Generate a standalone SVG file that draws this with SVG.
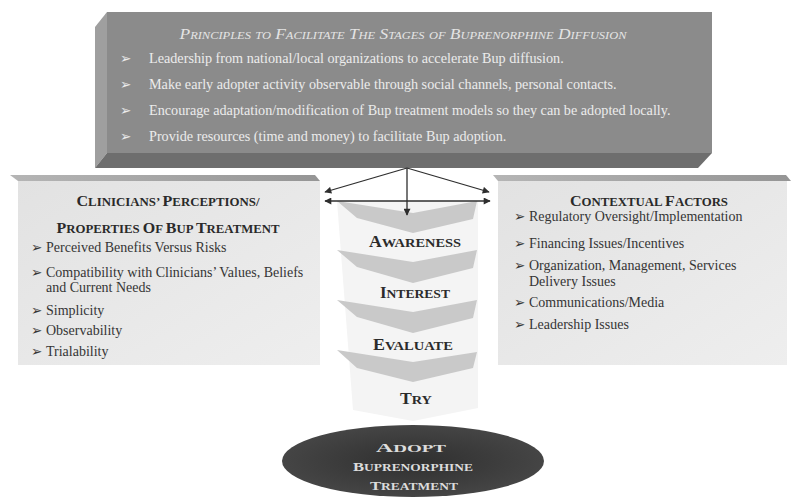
<svg xmlns="http://www.w3.org/2000/svg" width="791" height="498" viewBox="0 0 791 498">
<style>
.serif{font-family:"Liberation Serif","Times New Roman",serif}
.tt{fill:#ececec;font-size:14.2px}
.ttl{fill:#e4e4e4;font-size:14px;font-style:italic}
.st{fill:#353535;font-size:14px}
.hd{fill:#2a2a2a;font-weight:bold;text-anchor:middle}
.stage{fill:#2b2b2b;font-weight:bold;text-anchor:middle}
.ad{fill:#dcdcdc;font-weight:bold;text-anchor:middle}
.bul{font-family:"DejaVu Sans",sans-serif;font-size:13.5px}
.big{font-size:15px}
.sm{font-size:12px}
.band{fill:#c9c9c9}
.conn{stroke:#2e2e2e;stroke-width:1.3;fill:none}
</style>
<defs>
<marker id="ah" viewBox="0 0 10 10" refX="9" refY="5" markerWidth="9" markerHeight="7" markerUnits="userSpaceOnUse" orient="auto-start-reverse">
<path d="M0,0 L10,5 L0,10 z" fill="#2e2e2e"/>
</marker>
<linearGradient id="sideFace" x1="0" y1="0" x2="1" y2="1">
<stop offset="0" stop-color="#e2e2e2"/>
<stop offset="1" stop-color="#eeeeee"/>
</linearGradient>
<linearGradient id="topStrip" x1="0" y1="0" x2="1" y2="0">
<stop offset="0" stop-color="#b5b5b5"/>
<stop offset="1" stop-color="#959595"/>
</linearGradient>
<radialGradient id="ell" cx="0.5" cy="0.5" r="0.5">
<stop offset="0" stop-color="#2f2f2f"/>
<stop offset="1" stop-color="#454545"/>
</radialGradient>
</defs>

<g id="principles">
<polygon points="107,12 712,12 712,153 107,153" fill="#8b8b8b"/>
<polygon points="95,27 107,12 107,153 95,168" fill="#9f9f9f"/>
<polygon points="95,168 107,153 712,153 698,168" fill="#6e6e6e"/>
<text class="serif ttl" x="403" y="39" text-anchor="middle" font-variant="small-caps" textLength="447" lengthAdjust="spacingAndGlyphs">Principles to Facilitate The Stages of Buprenorphine Diffusion</text>
<g class="serif tt">
<text x="120" y="63"><tspan class="bul">➢</tspan><tspan x="149">Leadership from national/local organizations to accelerate Bup diffusion.</tspan></text>
<text x="120" y="89"><tspan class="bul">➢</tspan><tspan x="149">Make early adopter activity observable through social channels, personal contacts.</tspan></text>
<text x="120" y="115"><tspan class="bul">➢</tspan><tspan x="149">Encourage adaptation/modification of Bup treatment models so they can be adopted locally.</tspan></text>
<text x="120" y="141"><tspan class="bul">➢</tspan><tspan x="149">Provide resources (time and money) to facilitate Bup adoption.</tspan></text>
</g>
</g>

<g id="perceptions">
<polygon points="10,175 315,175 320,181 18,181" fill="url(#topStrip)"/>
<rect x="18" y="181" width="302" height="184" fill="url(#sideFace)"/>
<text class="serif hd" x="168" y="206" textLength="183" lengthAdjust="spacingAndGlyphs"><tspan class="big">C</tspan><tspan class="sm">LINICIANS’ </tspan><tspan class="big">P</tspan><tspan class="sm">ERCEPTIONS/</tspan></text>
<text class="serif hd" x="168" y="233" textLength="223" lengthAdjust="spacingAndGlyphs"><tspan class="big">P</tspan><tspan class="sm">ROPERTIES </tspan><tspan class="big">O</tspan><tspan class="sm">F </tspan><tspan class="big">B</tspan><tspan class="sm">UP </tspan><tspan class="big">T</tspan><tspan class="sm">REATMENT</tspan></text>
<g class="serif st">
<text x="31" y="252"><tspan class="bul">➢</tspan><tspan x="46">Perceived Benefits Versus Risks</tspan></text>
<text x="31" y="277"><tspan class="bul">➢</tspan><tspan x="46">Compatibility with Clinicians’ Values, Beliefs</tspan></text>
<text x="46" y="292">and Current Needs</text>
<text x="31" y="315"><tspan class="bul">➢</tspan><tspan x="46">Simplicity</tspan></text>
<text x="31" y="335"><tspan class="bul">➢</tspan><tspan x="46">Observability</tspan></text>
<text x="31" y="356"><tspan class="bul">➢</tspan><tspan x="46">Trialability</tspan></text>
</g>
</g>

<g id="contextual">
<polygon points="493,175 786,175 791,181 498,181" fill="url(#topStrip)"/>
<rect x="498" y="181" width="289" height="184" fill="url(#sideFace)"/>
<text class="serif hd" x="649" y="206" textLength="158" lengthAdjust="spacingAndGlyphs"><tspan class="big">C</tspan><tspan class="sm">ONTEXTUAL </tspan><tspan class="big">F</tspan><tspan class="sm">ACTORS</tspan></text>
<g class="serif st">
<text x="514" y="221"><tspan class="bul">➢</tspan><tspan x="529">Regulatory Oversight/Implementation</tspan></text>
<text x="514" y="248"><tspan class="bul">➢</tspan><tspan x="529">Financing Issues/Incentives</tspan></text>
<text x="514" y="270"><tspan class="bul">➢</tspan><tspan x="529">Organization, Management, Services</tspan></text>
<text x="529" y="286">Delivery Issues</text>
<text x="514" y="307"><tspan class="bul">➢</tspan><tspan x="529">Communications/Media</tspan></text>
<text x="514" y="329"><tspan class="bul">➢</tspan><tspan x="529">Leadership Issues</tspan></text>
</g>
</g>

<g id="stage-column">
<polygon points="337,201 478,201 478,408 413,421 353,410" fill="#f4f4f4"/>
</g>
<g id="awareness">
<polygon class="band" points="337,201 413,213 477,201 473,219 413,233 357,218"/>
<text class="serif stage" x="415" y="247" textLength="92" lengthAdjust="spacingAndGlyphs"><tspan font-size="16">A</tspan><tspan font-size="13">WARENESS</tspan></text>
</g>
<g id="interest">
<polygon class="band" points="337,250 413,262 477,250 473,268 413,283 357,267"/>
<text class="serif stage" x="415" y="298" textLength="70" lengthAdjust="spacingAndGlyphs"><tspan font-size="16">I</tspan><tspan font-size="13">NTEREST</tspan></text>
</g>
<g id="evaluate">
<polygon class="band" points="337,300 413,312 477,300 473,318 413,333 357,317"/>
<text class="serif stage" x="413" y="350" textLength="80" lengthAdjust="spacingAndGlyphs"><tspan font-size="16">E</tspan><tspan font-size="13">VALUATE</tspan></text>
</g>
<g id="try">
<polygon class="band" points="337,350 413,362 477,352 473,368 413,382 357,368"/>
<text class="serif stage" x="416" y="404" textLength="32" lengthAdjust="spacingAndGlyphs"><tspan font-size="16">T</tspan><tspan font-size="13">RY</tspan></text>
</g>

<g id="adopt">
<ellipse cx="413" cy="461" rx="131" ry="36" fill="url(#ell)"/>
<text class="serif ad" x="411" y="452" textLength="70" lengthAdjust="spacingAndGlyphs"><tspan font-size="12.5">A</tspan><tspan font-size="10">DOPT</tspan></text>
<text class="serif ad" x="413" y="471" textLength="120" lengthAdjust="spacingAndGlyphs"><tspan font-size="13">B</tspan><tspan font-size="10.5">UPRENORPHINE</tspan></text>
<text class="serif ad" x="414" y="490" textLength="88" lengthAdjust="spacingAndGlyphs"><tspan font-size="13">T</tspan><tspan font-size="10.5">REATMENT</tspan></text>
</g>

<g id="connectors">
<path class="conn" d="M407,168 L325,192" marker-end="url(#ah)"/>
<path class="conn" d="M407,168 L489,192" marker-end="url(#ah)"/>
<path class="conn" d="M407,168 L407,215" marker-end="url(#ah)"/>
<path class="conn" d="M325,201 L490,201" marker-start="url(#ah)" marker-end="url(#ah)"/>
</g>
</svg>
